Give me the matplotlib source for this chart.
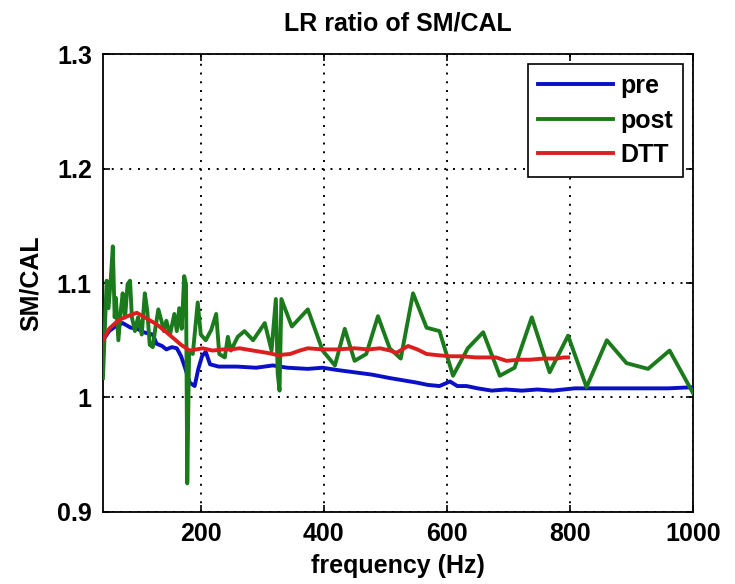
import matplotlib
matplotlib.use("Agg")
import matplotlib.pyplot as plt

plt.rcParams['font.family'] = ['Liberation Sans', 'DejaVu Sans']
plt.rcParams['font.weight'] = 'bold'

title = "LR ratio of SM/CAL"
xlabel = "frequency (Hz)"
ylabel = "SM/CAL"
xticks = [200, 400, 600, 800, 1000]
yticks = [0.9, 1.0, 1.1, 1.2, 1.3]
ytick_labels = ["0.9", "1", "1.1", "1.2", "1.3"]

pre_f = [41, 51, 61, 73, 86, 97, 107, 122, 128, 137, 144, 153, 161, 168, 175, 182, 190, 196, 202, 208,
         215, 229, 259, 290, 317, 341, 374, 398, 422, 450, 478, 507, 529, 551, 569, 588, 605, 617, 632,
         650, 673, 696, 722, 747, 772, 808, 859, 910, 960, 1000]
pre_v = [1.050, 1.058, 1.062, 1.065, 1.061, 1.060, 1.057, 1.055, 1.047, 1.045, 1.042, 1.044, 1.043, 1.036,
         1.025, 1.013, 1.010, 1.025, 1.036, 1.040, 1.029, 1.027, 1.027, 1.026, 1.028, 1.026, 1.025, 1.026,
         1.024, 1.022, 1.020, 1.017, 1.015, 1.013, 1.011, 1.010, 1.014, 1.010, 1.010, 1.008, 1.006, 1.007,
         1.006, 1.007, 1.006, 1.008, 1.008, 1.008, 1.008, 1.009]

post_f = [41, 47, 50, 54, 57, 60, 62, 66, 70, 73, 77, 81, 85, 88, 93, 98, 104, 109, 113, 117, 122, 126,
          131, 136, 140, 144, 150, 157, 161, 165, 169, 173, 176, 178, 181, 187, 195, 200, 208, 217, 225,
          230, 239, 244, 249, 260, 271, 285, 304, 315, 322, 325, 328, 331, 348, 374, 398, 418, 434, 450,
          469, 488, 507, 525, 545, 567, 588, 610, 634, 659, 686, 710, 738, 767, 797, 827, 860, 892, 927,
          962, 1000]
post_v = [1.017, 1.102, 1.078, 1.106, 1.132, 1.070, 1.087, 1.050, 1.076, 1.091, 1.070, 1.099, 1.102, 1.070,
          1.058, 1.070, 1.055, 1.091, 1.076, 1.046, 1.044, 1.060, 1.077, 1.067, 1.058, 1.067, 1.055, 1.073,
          1.058, 1.078, 1.060, 1.106, 1.099, 0.925, 1.040, 1.038, 1.083, 1.055, 1.050, 1.059, 1.073, 1.038,
          1.035, 1.053, 1.041, 1.053, 1.058, 1.050, 1.065, 1.041, 1.086, 1.021, 1.006, 1.086, 1.062, 1.077,
          1.041, 1.028, 1.060, 1.032, 1.038, 1.071, 1.043, 1.034, 1.091, 1.061, 1.058, 1.019, 1.043, 1.057,
          1.019, 1.026, 1.070, 1.022, 1.054, 1.009, 1.050, 1.030, 1.025, 1.041, 1.004]

dtt_f = [41, 51, 61, 68, 81, 96, 112, 128, 142, 155, 168, 182, 193, 203, 219, 236, 249, 263, 285, 308,
         325, 345, 361, 374, 398, 422, 450, 473, 491, 508, 518, 537, 552, 567, 584, 605, 625, 647, 666,
         680, 697, 717, 735, 757, 778, 790, 797]
dtt_v = [1.050, 1.060, 1.065, 1.068, 1.071, 1.074, 1.069, 1.064, 1.058, 1.052, 1.046, 1.041, 1.042, 1.043,
         1.041, 1.042, 1.042, 1.043, 1.041, 1.039, 1.037, 1.038, 1.041, 1.043, 1.042, 1.042, 1.043, 1.042,
         1.043, 1.041, 1.039, 1.045, 1.042, 1.038, 1.037, 1.036, 1.036, 1.035, 1.035, 1.035, 1.032, 1.033,
         1.033, 1.034, 1.034, 1.035, 1.035]

fig = plt.figure(figsize=(7.35, 5.84), dpi=100)
ax = fig.add_axes([0.1401, 0.1233, 0.8027, 0.7842])

lw = 2.8
ax.plot(pre_f, pre_v, color='#0a0fc8', lw=lw, label='pre', zorder=3)
ax.plot(post_f, post_v, color='#1b7a1b', lw=lw, label='post', zorder=4)
ax.plot(dtt_f, dtt_v, color='#dc1e1e', lw=lw, label='DTT', zorder=5)

ax.set_xlim(41, 1000)
ax.set_ylim(0.9, 1.3)
ax.set_xticks(xticks)
ax.set_xticklabels([str(t) for t in xticks])
ax.set_yticks(yticks)
ax.set_yticklabels(ytick_labels)
ax.tick_params(direction='in', top=True, right=True, labelsize=18, length=5, width=1.2)
ax.tick_params(axis='y', pad=8)
ax.tick_params(axis='x', pad=7)
for lab in ax.get_xticklabels() + ax.get_yticklabels():
    lab.set_fontweight('bold')
ax.grid(True, color='black', linestyle=(0, (1, 3.5)), linewidth=1.4)
for s in ax.spines.values():
    s.set_linewidth(1.3)

ax.set_title(title, fontsize=18, fontweight='bold', pad=17)
ax.set_xlabel(xlabel, fontsize=18, fontweight='bold', labelpad=6)
ax.set_ylabel(ylabel, fontsize=18, fontweight='bold', labelpad=10)

leg = ax.legend(loc='upper right', fontsize=18, handlelength=3.0, handletextpad=0.3,
                frameon=True, fancybox=False, edgecolor='black', framealpha=1,
                borderpad=0.4, labelspacing=0.42, borderaxespad=0.4)
leg.get_frame().set_linewidth(1.2)
for t in leg.get_texts():
    t.set_fontweight('bold')

fig.savefig('out.png', dpi=100)
